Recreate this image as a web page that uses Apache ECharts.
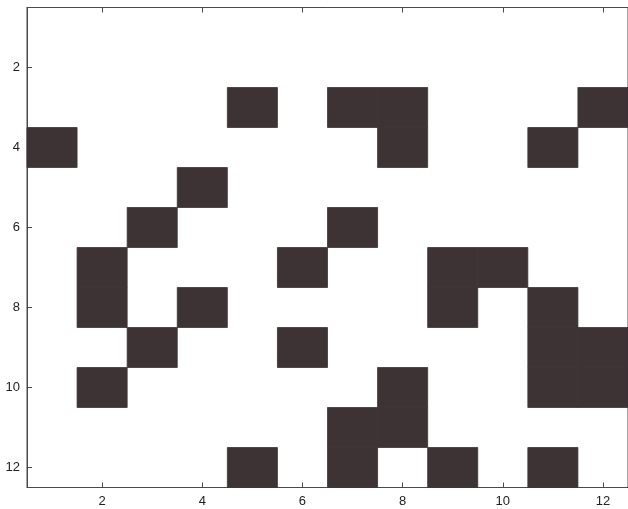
<!DOCTYPE html>
<html>
<head>
<meta charset="utf-8">
<script src="https://cdn.jsdelivr.net/npm/echarts@6/dist/echarts.min.js"></script>
<style>
  html, body { margin: 0; padding: 0; background: #fff; }
  #chart { width: 628px; height: 509px; }
</style>
</head>
<body>
<div id="chart"></div>
<script>
// filled cells as [column, row]
const filledCells = [
  [5, 3], [7, 3], [8, 3], [12, 3],
  [1, 4], [8, 4], [11, 4],
  [4, 5],
  [3, 6], [7, 6],
  [2, 7], [6, 7], [9, 7], [10, 7],
  [2, 8], [4, 8], [9, 8], [11, 8],
  [3, 9], [6, 9], [11, 9], [12, 9],
  [2, 10], [8, 10], [11, 10], [12, 10],
  [7, 11], [8, 11],
  [5, 12], [7, 12], [9, 12], [11, 12]
];
const tickValues = [2, 4, 6, 8, 10, 12];

const chart = echarts.init(document.getElementById("chart"));

const axisLine = { show: true, lineStyle: { color: "#4a4a4a", width: 1 } };
const tick = {
  show: true,
  inside: true,
  length: 5,
  customValues: tickValues,
  lineStyle: { color: "#4a4a4a" },
};
const label = {
  customValues: tickValues,
  margin: 7,
  color: "#222",
  fontSize: 13,
  fontFamily: "Liberation Sans",
};

const option = {
  backgroundColor: "#fff",
  animation: false,
  grid: {
    left: 27,
    right: -8,
    top: 7.5,
    bottom: 21.5,
    show: true,
    borderColor: "#4a4a4a",
    borderWidth: 1,
  },
  xAxis: [
    {
      type: "value",
      min: 0.5,
      max: 12.5,
      position: "bottom",
      axisLine: axisLine,
      axisTick: tick,
      splitLine: { show: false },
      axisLabel: label,
    },
    {
      type: "value",
      min: 0.5,
      max: 12.5,
      position: "top",
      axisLine: axisLine,
      axisTick: tick,
      splitLine: { show: false },
      axisLabel: { show: false },
    },
  ],
  yAxis: {
    type: "value",
    min: 0.5,
    max: 12.5,
    inverse: true,
    axisLine: axisLine,
    axisTick: tick,
    splitLine: { show: false },
    axisLabel: label,
  },
  series: [
    {
      type: "custom",
      xAxisIndex: 0,
      data: filledCells,
      renderItem: function (params, api) {
        const c = api.value(0);
        const r = api.value(1);
        const p0 = api.coord([c - 0.5, r - 0.5]);
        const p1 = api.coord([c + 0.5, r + 0.5]);
        return {
          type: "rect",
          shape: {
            x: p0[0],
            y: p0[1],
            width: p1[0] - p0[0],
            height: p1[1] - p0[1],
          },
          // stroke in fill colour hides seams between touching cells
          style: { fill: "#3d3335", stroke: "#3d3335", lineWidth: 0.8 },
        };
      },
    },
  ],
};

chart.setOption(option);
</script>
</body>
</html>
